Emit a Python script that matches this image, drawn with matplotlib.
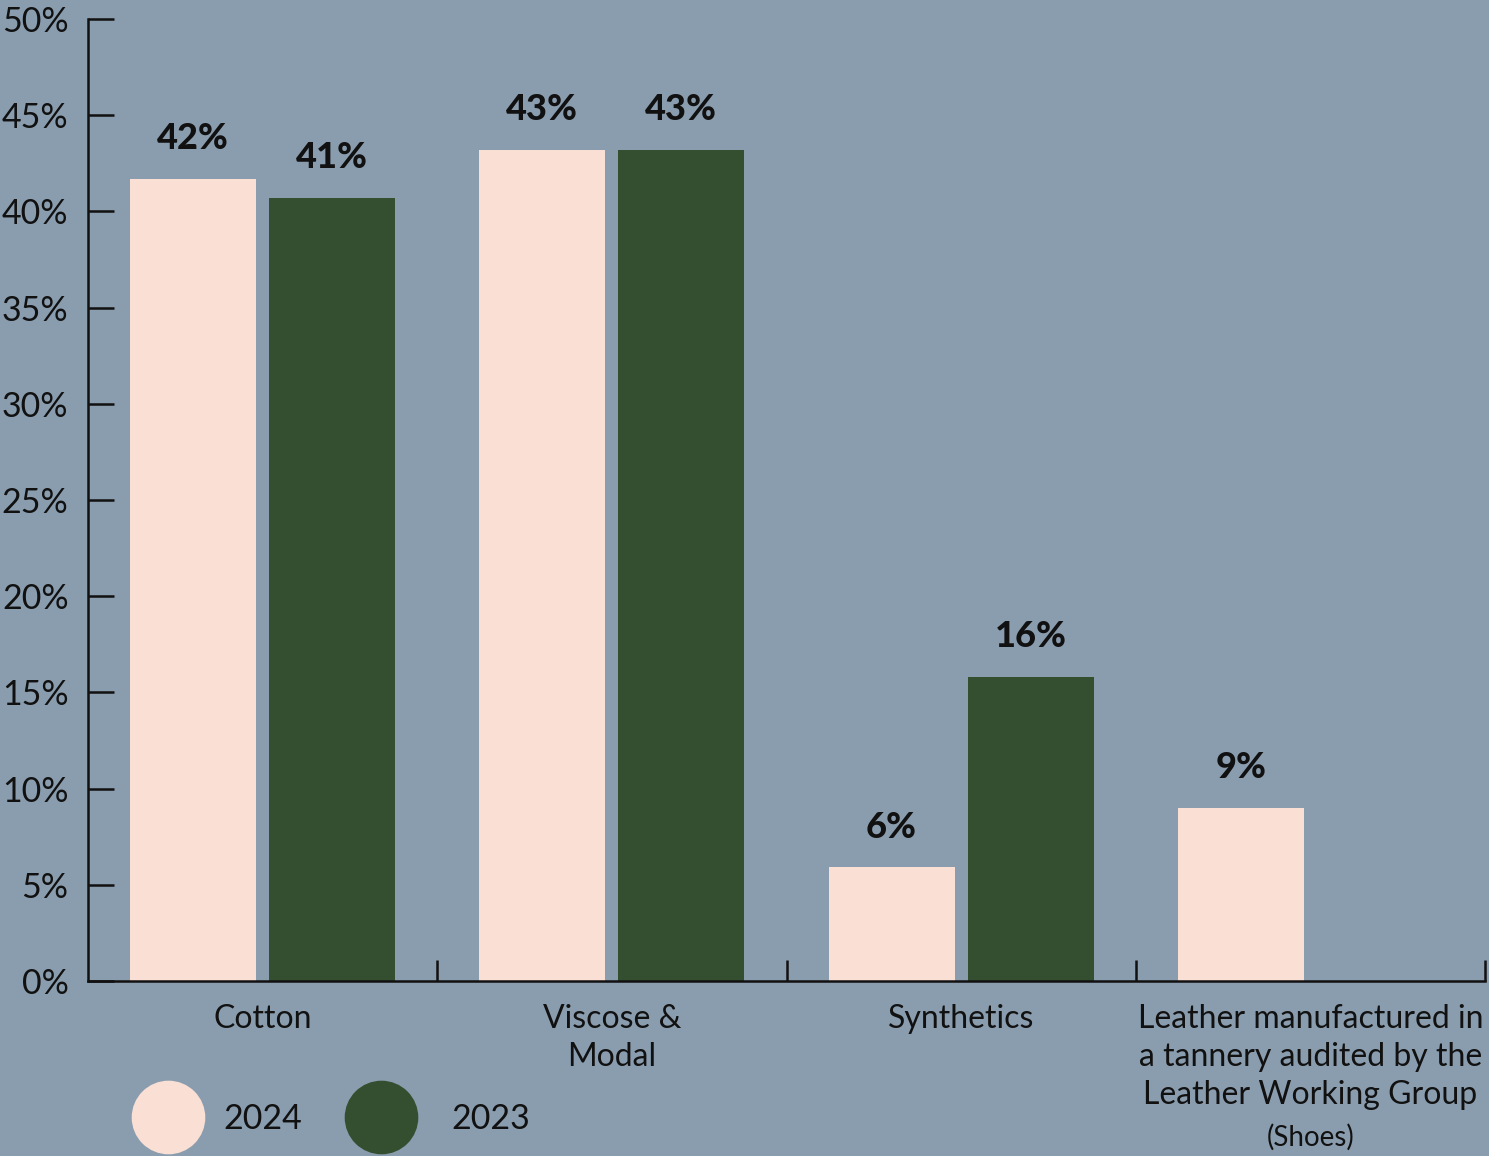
import numpy as np
import matplotlib.pyplot as plt
import matplotlib as mpl

mpl.rcParams.update({
    "font.family": ["Lato", "DejaVu Sans"],
    "text.color": "#111111",
    "axes.labelcolor": "#111111",
    "xtick.color": "#111111",
    "ytick.color": "#111111",
})

# ── Colours ──
BG = "#8a9daf"
PINK = "#fadfd5"
GREEN = "#334f2f"

# ── Data ──
categories = ["Cotton", "Viscose &\nModal", "Synthetics",
              "Leather manufactured in\na tannery audited by the\nLeather Working Group"]
vals_2024 = [41.7, 43.2, 5.9, 9.0]
vals_2023 = [40.7, 43.2, 15.8, np.nan]
labels_2024 = ["42%", "43%", "6%", "9%"]
labels_2023 = ["41%", "43%", "16%", ""]
yticks = np.arange(0, 51, 5)

fig = plt.figure(figsize=(14.89, 11.56), dpi=100, facecolor=BG)
ax = fig.add_axes([88 / 1489, 1 - 981 / 1156, (1485 - 88) / 1489, (981 - 19) / 1156])
ax.set_facecolor(BG)

x = np.arange(len(categories)) + 0.5
w = 0.361
b1 = ax.bar(x - 0.199, vals_2024, w, color=PINK, zorder=2)
b2 = ax.bar(x + 0.199, vals_2023, w, color=GREEN, zorder=2)

for bars, labs in [(b1, labels_2024), (b2, labels_2023)]:
    for r, lab in zip(bars, labs):
        if not lab:
            continue
        ax.annotate(lab, (r.get_x() + r.get_width() / 2, r.get_height()),
                    xytext=(0, 17), textcoords="offset points",
                    ha="center", va="bottom", fontsize=26, fontweight="black")

ax.set_xlim(0, 4)
ax.set_ylim(0, 50)
for s in ["top", "right"]:
    ax.spines[s].set_visible(False)
for s in ["left", "bottom"]:
    ax.spines[s].set_linewidth(1.8)
    ax.spines[s].set_color("#111111")

ax.set_yticks(yticks)
ax.set_yticklabels([f"{v}%" for v in yticks], fontsize=24.5)
ax.tick_params(axis="y", direction="in", length=19, width=1.8, pad=14)

# category dividers as inward ticks, labels as text
ax.set_xticks([1, 2, 3, 4])
ax.set_xticklabels([])
ax.tick_params(axis="x", direction="in", length=15, width=1.8)

trans = ax.get_xaxis_transform()
for xi, cat in zip(x, categories):
    ax.text(xi, -0.024, cat, transform=trans, ha="center", va="top",
            fontsize=23, linespacing=1.33)
ax.text(x[3], -0.162, "(Shoes)", transform=trans, ha="center", va="center",
        fontsize=20)

# legend circles
for cx, col, tx, lab in [(168, PINK, 223, "2024"), (381, GREEN, 451, "2023")]:
    ax.scatter([cx / 1489], [1 - 1117 / 1156], s=53 ** 2, color=col,
               transform=fig.transFigure, clip_on=False, linewidths=0)
    fig.text(tx / 1489, 1 - 1119 / 1156, lab, ha="left", va="center", fontsize=24.5)

fig.savefig("out.png", dpi=100, facecolor=BG)
